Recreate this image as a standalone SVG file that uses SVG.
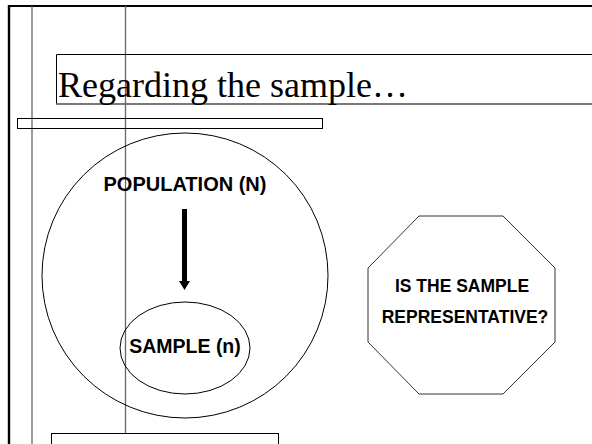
<svg xmlns="http://www.w3.org/2000/svg" width="592" height="444" viewBox="0 0 592 444">
<style>
.ln{fill:none;stroke:#000;stroke-width:1}
.gr{fill:none;stroke:#666;stroke-width:1.3}
.lbl{font-family:"Liberation Sans",Arial,sans-serif;font-weight:bold;fill:#000}
</style>
<rect width="592" height="444" fill="#fff"/>
<g id="frame">
<line x1="8" y1="6" x2="592" y2="6" stroke="#000" stroke-width="2.2"/>
<line x1="9" y1="5" x2="9" y2="444" stroke="#000" stroke-width="2.4"/>
<line x1="32" y1="6" x2="32" y2="444" class="gr"/>
<line x1="125.5" y1="6" x2="125.5" y2="434" class="gr"/>
<rect x="17.5" y="118.5" width="305" height="10" class="ln"/>
<rect x="51.5" y="433.5" width="227" height="20" class="ln"/>
</g>
<g id="title">
<path d="M600 54.5 H56.5 V104 H600" class="ln"/>
<line x1="56" y1="104" x2="592" y2="104" stroke="#777" stroke-width="1.5"/>
<text x="58" y="97" font-family="'Liberation Serif','Times New Roman',serif" font-size="36" fill="#000">Regarding the sample…</text>
</g>
<g id="population">
<ellipse cx="185" cy="275.5" rx="143" ry="142.5" class="ln"/>
<text x="185" y="191" text-anchor="middle" class="lbl" font-size="20">POPULATION (N)</text>
</g>
<g id="sample">
<ellipse cx="185" cy="348" rx="65" ry="46" class="ln"/>
<text x="185" y="353" text-anchor="middle" class="lbl" font-size="19.5">SAMPLE (n)</text>
</g>
<g id="question">
<polygon points="419,216 503,216 555,268 555,342 503,394 419,394 368,342 368,268" fill="none" stroke="#333" stroke-width="1"/>
<text x="462" y="292" text-anchor="middle" class="lbl" font-size="17.5">IS THE SAMPLE</text>
<text x="465" y="323" text-anchor="middle" class="lbl" font-size="17.5">REPRESENTATIVE?</text>
</g>
<g id="connectors">
<path d="M182 209 H187 V281 H190 L184.5 290 L179 281 H182 Z" fill="#000"/>
</g>
</svg>
